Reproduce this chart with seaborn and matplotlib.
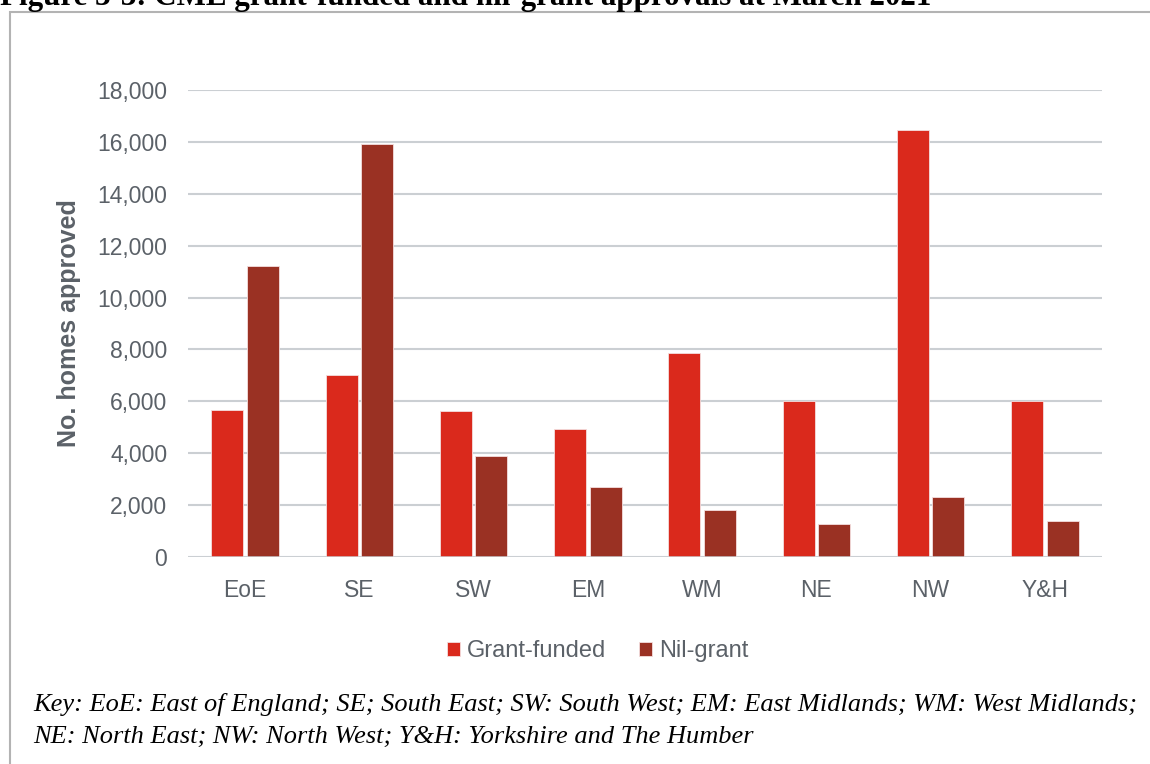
import pandas as pd
import matplotlib
matplotlib.use("Agg")
import matplotlib.pyplot as plt
import matplotlib.ticker as mticker
from matplotlib.patches import Rectangle
import seaborn as sns

# ── Data ───────────────────────────────────────────────────
regions = ["EoE", "SE", "SW", "EM", "WM", "NE", "NW", "Y&H"]
grant_funded = [5670, 7000, 5620, 4920, 7850, 6010, 16450, 6010]
nil_grant = [11220, 15920, 3880, 2710, 1810, 1260, 2300, 1400]
series_names = ["Grant-funded", "Nil-grant"]
y_ticks = list(range(0, 18001, 2000))

title = "Figure 3-3: CME grant-funded and nil-grant approvals at March 2021"
key_line1 = ("Key: EoE: East of England; SE; South East; SW: South West; "
             "EM: East Midlands; WM: West Midlands;")
key_line2 = "NE: North East; NW: North West; Y&H: Yorkshire and The Humber"

df = pd.DataFrame({
    "Region": regions * 2,
    "Homes": grant_funded + nil_grant,
    "Type": [series_names[0]] * len(regions) + [series_names[1]] * len(regions),
})

# ── Style ──────────────────────────────────────────────────
sns.set_theme(style="white")
plt.rcParams["font.family"] = ["Liberation Sans", "DejaVu Sans"]
TXT = "#5b6168"
GRID = "#cbcfd3"
palette = {"Grant-funded": "#DA291C", "Nil-grant": "#9A3123"}
SERIF = ["Liberation Serif", "DejaVu Serif"]

fig = plt.figure(figsize=(11.5, 7.64), dpi=100)
ax = fig.add_axes([188 / 1150, 1 - 557 / 764, 914 / 1150, 467 / 764])

sns.barplot(data=df, x="Region", y="Homes", hue="Type", order=regions,
            hue_order=series_names, palette=palette, saturation=1,
            width=0.62, gap=0.1, edgecolor="#f4dede", linewidth=0.6, ax=ax)

ax.set_ylim(0, 18000)
ax.set_xlim(-0.5, len(regions) - 0.5)
ax.set_yticks(y_ticks)
ax.yaxis.set_major_formatter(mticker.FuncFormatter(lambda v, p: f"{int(v):,}"))
ax.grid(axis="y", color=GRID, linewidth=1.5)
ax.set_axisbelow(True)
for s in ["top", "right", "left", "bottom"]:
    ax.spines[s].set_visible(False)
ax.axhline(0, color=GRID, linewidth=1.8, zorder=3)
ax.tick_params(axis="y", length=0, pad=15, labelsize=16.5, labelcolor=TXT)
ax.tick_params(axis="x", length=0, pad=16, labelsize=16.5, labelcolor=TXT)
ax.set_xlabel("")
ax.set_ylabel("No. homes approved", fontsize=18, fontweight="bold", color=TXT)
ax.yaxis.set_label_coords(-0.117, 0.5)

# legend below the chart
handles, labels = ax.get_legend_handles_labels()
ax.get_legend().remove()
fig.legend(handles, labels, loc="center", bbox_to_anchor=(598 / 1150, 1 - 651 / 764),
           ncol=2, frameon=False, fontsize=17, labelcolor=TXT,
           handlelength=0.55, handleheight=0.55, handletextpad=0.3,
           columnspacing=1.4)

# outer frame and captions
fig.patches.append(Rectangle((9.7 / 1150, -0.05), 1.1, 1 - 12 / 764 + 0.05,
                             transform=fig.transFigure, fill=False,
                             edgecolor="#b3b3b3", linewidth=1.5))
fig.text(0.0, 1 - 5 / 764, title, fontsize=22.3, fontweight="bold",
         family=SERIF, color="black", va="baseline")
fig.text(33 / 1150, 1 - 711.5 / 764, key_line1, fontsize=19, style="italic",
         family=SERIF, color="black", va="baseline")
fig.text(33 / 1150, 1 - 742.5 / 764, key_line2, fontsize=19, style="italic",
         family=SERIF, color="black", va="baseline")

fig.savefig("out.png", dpi=100)
